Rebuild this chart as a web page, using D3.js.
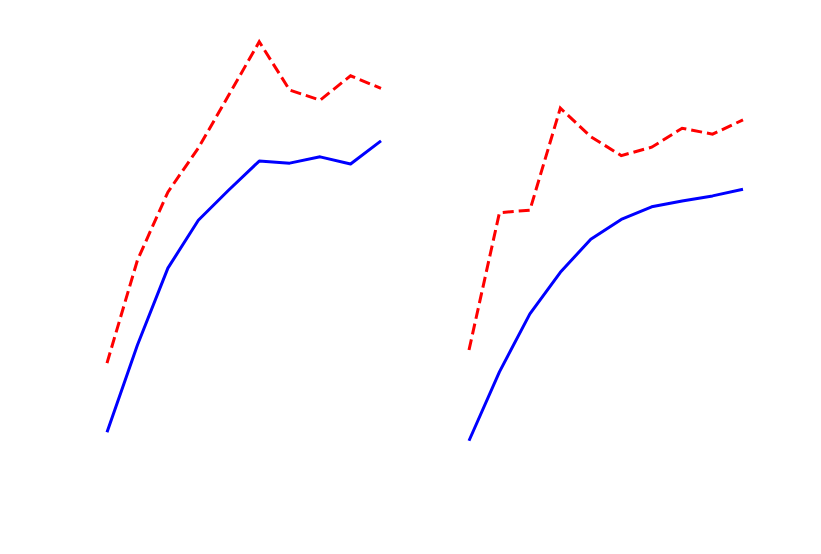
<!DOCTYPE html>
<html>
<head>
<meta charset="utf-8">
<script src="https://cdn.jsdelivr.net/npm/d3@7"></script>
<style>
  html, body { margin: 0; padding: 0; background: #fff; }
  svg { display: block; }
</style>
</head>
<body>
<svg id="chart" width="821" height="554"></svg>
<script>
// Data (x = step index 0..9, y = value 0..1)
const steps = [0, 1, 2, 3, 4, 5, 6, 7, 8, 9];
const leftSolid  = [0.042, 0.250, 0.433, 0.547, 0.619, 0.688, 0.683, 0.698, 0.681, 0.736];
const leftDashed = [0.207, 0.452, 0.614, 0.719, 0.845, 0.972, 0.857, 0.833, 0.891, 0.861];
const rightSolid  = [0.022, 0.186, 0.324, 0.423, 0.502, 0.549, 0.579, 0.593, 0.605, 0.621];
const rightDashed = [0.238, 0.565, 0.571, 0.814, 0.746, 0.701, 0.721, 0.766, 0.752, 0.786];

const svg = d3.select("#chart");

const panels = [
  { x0: 107, x1: 381, solid: leftSolid, dashed: leftDashed },
  { x0: 469, x1: 743, solid: rightSolid, dashed: rightDashed }
];

const y = d3.scaleLinear().domain([0, 1]).range([450, 30]);

panels.forEach(p => {
  const x = d3.scaleLinear().domain([0, 9]).range([p.x0, p.x1]);
  const line = d3.line().x((d, i) => x(steps[i])).y(d => y(d));
  const g = svg.append("g");
  g.append("path")
    .datum(p.dashed)
    .attr("d", line)
    .attr("fill", "none")
    .attr("stroke", "#ff0000")
    .attr("stroke-width", 3)
    .attr("stroke-dasharray", "11,5");
  g.append("path")
    .datum(p.solid)
    .attr("d", line)
    .attr("fill", "none")
    .attr("stroke", "#0000ff")
    .attr("stroke-width", 3)
    .attr("stroke-linejoin", "round");
});
</script>
</body>
</html>
